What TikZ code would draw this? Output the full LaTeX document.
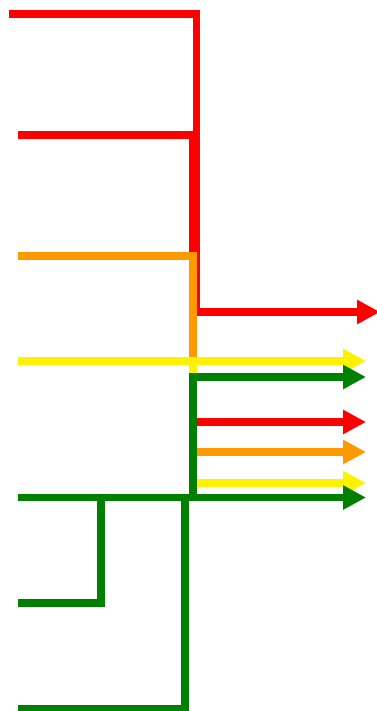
\documentclass[tikz,border=0pt]{standalone}
\usetikzlibrary{arrows.meta}
\definecolor{wireorange}{RGB}{255,153,0}
\definecolor{wiregreen}{RGB}{0,128,0}
\begin{document}
\begin{tikzpicture}[x=1pt, y=-1pt, line width=7.5pt, >={Triangle[length=23pt,width=23pt]}]
\useasboundingbox (0,0) rectangle (376,711);
% inputs on the left
\coordinate (IR1) at (9,14);
\coordinate (IR2) at (18,135);
\coordinate (IO)  at (18,256);
\coordinate (IY)  at (18,361);
\coordinate (IG1) at (18,497.5);
\coordinate (IG2) at (18,603);
\coordinate (IG3) at (18,709);
% outputs on the right
\coordinate (OR1) at (380,312);
\coordinate (OY1) at (366,361);
\coordinate (OG1) at (366,377);
\coordinate (OR2) at (366,422);
\coordinate (OO)  at (366,452);
\coordinate (OY2) at (366,483);
\coordinate (OG2) at (366,497.5);
% vertical runs
\coordinate (bR1) at (196.5,0);
\coordinate (bR2) at (192.5,0);
\coordinate (bM)  at (193,0);
\coordinate (bG3) at (185,0);
\coordinate (bG2) at (101,0);
\draw[red,->] (IR1) -- (IR1 -| bR1) |- (OR1);
\draw[red,->] (IR2) -- (IR2 -| bR2) |- (OR2);
\draw[wireorange,->] (IO) -- (IO -| bM) |- (OO);
\draw[yellow,->] (IY) -- (OY1);
\draw[yellow,->] (IY -| bM) |- (OY2);
\draw[wiregreen] (IG3) -| (IG1 -| bG3);
\draw[wiregreen] (IG2) -| (IG1 -| bG2);
\draw[wiregreen,->] (IG1 -| bM) |- (OG1);
\draw[wiregreen,->] (IG1) -- (OG2);
\end{tikzpicture}
\end{document}
